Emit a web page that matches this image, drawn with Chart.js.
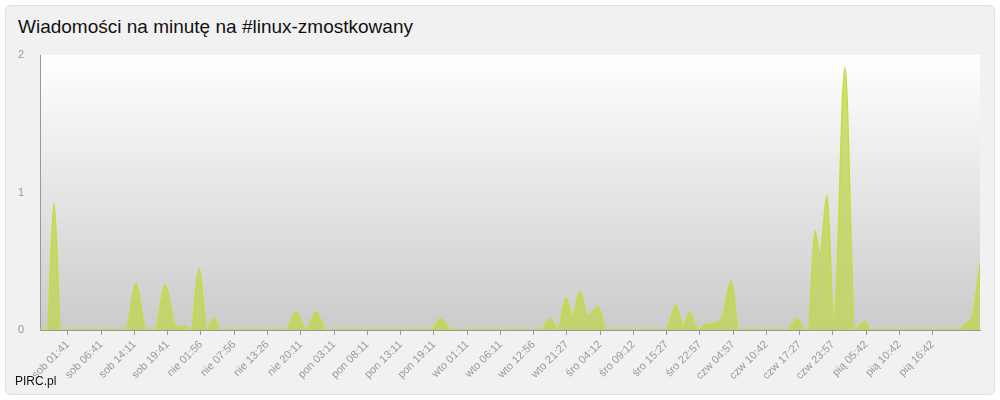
<!DOCTYPE html>
<html>
<head>
<meta charset="utf-8">
<script src="https://cdn.jsdelivr.net/npm/chart.js@4/dist/chart.umd.min.js"></script>
<style>
  html, body { margin: 0; padding: 0; background: #fff; }
  #box { position: relative; width: 1000px; height: 400px; box-sizing: border-box; }
  #card { position: absolute; left: 5px; top: 5px; width: 988px; height: 388px; background: #f1f1f1;
          border: 1px solid #e2e2e2; border-radius: 5px; }
  #title { position: absolute; left: 18px; top: 16px; font: 19px "Liberation Sans", Arial, sans-serif; color: #111; }
  #foot { position: absolute; left: 15px; top: 374px; font: 12px "Liberation Sans", Arial, sans-serif; color: #111; }
  canvas { position: absolute; left: 0; top: 0; }
</style>
</head>
<body>
<div id="box">
  <div id="card"></div>
  <div id="title">Wiadomości na minutę na #linux-zmostkowany</div>
  <canvas id="c" width="1000" height="400"></canvas>
  <div id="foot">PIRC.pl</div>
</div>
<script>
// tick labels (one per axis tick)
const tickLabels = ['sob 01:41','sob 06:41','sob 14:11','sob 19:41','nie 01:56','nie 07:56','nie 13:26','nie 20:11',
  'pon 03:11','pon 08:11','pon 13:11','pon 19:11','wto 01:11','wto 06:11','wto 12:56','wto 21:27',
  'śro 04:12','śro 09:12','śro 15:27','śro 22:57','czw 04:57','czw 10:42','czw 17:27','czw 23:57',
  'pią 05:42','pią 10:42','pią 16:42'];
// sample positions, in tick units, and messages per minute
const sampleX = [-0.84,-0.63,-0.42,-0.21,1.74,2.04,2.35,2.62,2.92,3.25,3.49,3.70,3.94,4.18,4.39,4.57,
  6.55,6.86,7.16,7.46,7.76,10.91,11.21,11.52,14.22,14.49,14.73,14.97,15.18,15.39,15.63,15.94,16.18,
  17.98,18.28,18.49,18.70,18.94,19.18,19.48,19.69,19.94,20.17,21.62,21.92,22.16,22.25,22.46,22.61,
  22.82,23.03,23.36,23.66,23.96,24.12,26.82,27.0,27.19,27.42];
const sampleY = [0,0,0.92,0,0,0.34,0,0,0.33,0.02,0.03,0,0.45,0,0.09,0,
  0,0.13,0,0.13,0,0,0.08,0,0,0.08,0,0.23,0.1,0.28,0.1,0.17,0,
  0,0.18,0.02,0.13,0,0.04,0.05,0.1,0.36,0,0,0.08,0,0,0.72,0.55,
  0.98,0.05,1.91,0,0.06,0,0,0.05,0.1,0.48];
const yTicks = [0, 1, 2];

const points = sampleX.map((x, i) => ({ x: x, y: sampleY[i] }));

const bgPlugin = {
  id: 'bg',
  beforeDraw(chart) {
    const a = chart.chartArea, ctx = chart.ctx;
    const g = ctx.createLinearGradient(0, a.top, 0, a.bottom);
    g.addColorStop(0, '#ffffff');
    g.addColorStop(1, '#cbcbcb');
    ctx.save();
    ctx.fillStyle = g;
    ctx.fillRect(a.left, a.top, a.right - a.left, a.bottom - a.top);
    ctx.restore();
  }
};

new Chart(document.getElementById('c'), {
  type: 'line',
  data: {
    datasets: [{
      data: points,
      fill: 'origin',
      backgroundColor: 'rgba(190,214,80,0.75)',
      borderColor: '#c3dd3a',
      borderWidth: 1.5,
      pointRadius: 0,
      cubicInterpolationMode: 'monotone'
    }]
  },
  options: {
    responsive: false,
    animation: false,
    layout: { padding: { top: 55, right: 20, left: 0, bottom: 0 } },
    plugins: { legend: { display: false }, tooltip: { enabled: false } },
    scales: {
      x: {
        type: 'linear', min: -0.84, max: 27.42,
        afterFit(s) { s.height = 70; },
        afterBuildTicks(s) { s.ticks = tickLabels.map((_, i) => ({ value: i })); },
        ticks: {
          autoSkip: false, maxRotation: 45, minRotation: 45,
          color: '#999', font: { size: 11, family: 'Liberation Sans' },
          callback: v => tickLabels[v]
        },
        grid: { display: true, drawOnChartArea: false, tickLength: 5, color: '#999' },
        border: { color: '#999' }
      },
      y: {
        min: 0, max: 2,
        afterFit(s) { s.width = 40; },
        afterBuildTicks(s) { s.ticks = yTicks.map(v => ({ value: v })); },
        ticks: { color: '#999', font: { size: 11, family: 'Liberation Sans' }, padding: 8 },
        grid: { display: false },
        border: { color: '#999' }
      }
    }
  },
  plugins: [bgPlugin]
});
</script>
</body>
</html>
